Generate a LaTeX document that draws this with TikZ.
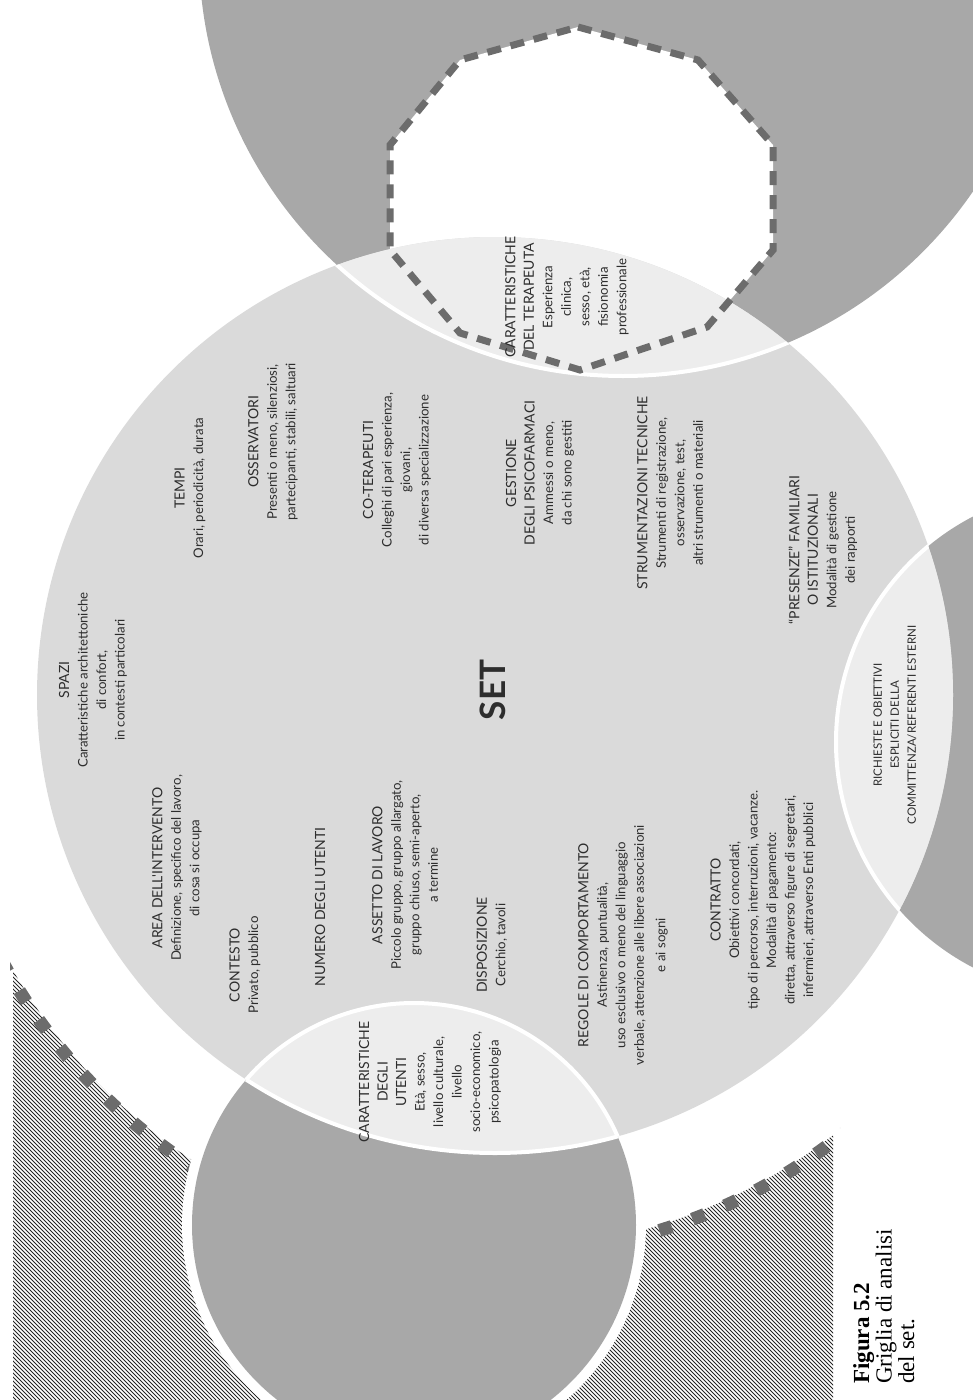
\documentclass[tikz,border=0pt]{standalone}
\usepackage{fontspec}
\usetikzlibrary{shapes}
\usetikzlibrary{arrows}
\newfontfamily\griglia{Lato}
\newfontfamily\didascalia{Liberation Serif}
\definecolor{fondo}{RGB}{218,218,218}
\definecolor{anello}{RGB}{168,168,168}
\definecolor{lente}{RGB}{237,237,237}
\definecolor{quadri}{RGB}{108,108,108}
\definecolor{inchiostro}{RGB}{45,45,45}
\newcommand{\titolo}[1]{{\fontsize{14}{18.5}\selectfont #1}}

\begin{document}
\begin{tikzpicture}[x=1pt,y=-1pt]
	\tikzstyle{voce}=[rotate=90, align=center, text=inchiostro, font=\griglia\fontsize{13.2}{18.5}\selectfont, inner sep=0pt]
	\tikzstyle{cerchio}=[fill=anello]
	\tikzstyle{bordo}=[draw=white, line width=4pt]
	\tikzstyle{tratteggio}=[draw=quadri, line width=7pt, dash pattern=on 14pt off 10pt]
	\tikzstyle{quadretti}=[draw=quadri, line width=13pt, dash pattern=on 13pt off 22pt]
	\tikzstyle{righe}=[draw=black!85, line width=0.8pt]

	\useasboundingbox (0,0) rectangle (973,1400);
	\clip (0,0) rectangle (973,1400);

	\coordinate (set) at (495,695);
	\coordinate (terapeuta) at (623,-48);
	\coordinate (esterni) at (1090,742);
	\coordinate (utenti) at (414,1225);

	\begin{scope}
		\clip (13,900) rectangle (833,1400);
		\begin{scope}[even odd rule]
			\clip (-10,-10) rectangle (1000,1410) (set) circle (555);
			\foreach \k in {-1400,-1396,...,840}
				\draw[righe] (\k,0) -- (\k+1400,1400);
		\end{scope}
	\end{scope}
	\begin{scope}
		\clip (10,900) rectangle (840,1400);
		\draw[quadretti] (set) circle (560);
	\end{scope}
	\fill[white] (utenti) circle (232);

	\fill[cerchio] (terapeuta) circle (424);
	\fill[cerchio] (esterni) circle (254);
	\fill[cerchio] (utenti) circle (222);
	\fill[white] (578,27) -- (698,60) -- (773,145) -- (773,250) -- (707,327) -- (580,370) -- (460,333) -- (390,250) -- (390,145) -- (460,60) -- cycle;

	\fill[fondo] (set) circle (458);
	\begin{scope}
		\clip (set) circle (458);
		\fill[lente] (terapeuta) circle (424);
		\fill[lente] (esterni) circle (254);
		\fill[lente] (utenti) circle (222);
		\draw[bordo] (terapeuta) circle (424);
		\draw[bordo] (esterni) circle (254);
		\draw[bordo] (utenti) circle (222);
	\end{scope}
	\begin{scope}
		\clip (utenti) circle (222);
		\draw[bordo] (set) circle (458);
	\end{scope}
	\draw[tratteggio] (578,27) -- (698,60) -- (773,145) -- (773,250) -- (707,327) -- (580,370) -- (460,333) -- (390,250) -- (390,145) -- (460,60) -- cycle;

	\node[voce] (spazi) at (93,680) {\titolo{SPAZI}\\Caratteristiche architettoniche\\di confort,\\in contesti particolari};
	\node[voce] (tempi) at (190,488) {\titolo{TEMPI}\\Orari, periodicità, durata};
	\node[voce] (osservatori) at (273,442) {\titolo{OSSERVATORI}\\Presenti o meno, silenziosi,\\partecipanti, stabili, saltuari};
	\node[voce] (coterapeuti) at (397,470) {\titolo{CO-TERAPEUTI}\\Colleghi di pari esperienza,\\giovani,\\di diversa specializzazione};
	\node[voce] (psicofarmaci) at (540,473) {\titolo{GESTIONE}\\\titolo{DEGLI PSICOFARMACI}\\Ammessi o meno,\\da chi sono gestiti};
	\node[voce] (strumentazioni) at (670,493) {\titolo{STRUMENTAZIONI TECNICHE}\\Strumenti di registrazione,\\osservazione, test,\\altri strumenti o materiali};
	\node[voce] (presenze) at (823,550) {\titolo{“PRESENZE” FAMILIARI}\\\titolo{O ISTITUZIONALI}\\Modalità di gestione\\dei rapporti};
	\node[voce] (terapeutacar) at (567,297) {\titolo{CARATTERISTICHE}\\\titolo{DEL TERAPEUTA}\\Esperienza\\clinica,\\sesso, età,\\fisionomia\\professionale};
	\node[voce] (area) at (177,868) {\titolo{AREA DELL'INTERVENTO}\\Definizione, specifico del lavoro,\\di cosa si occupa};
	\node[voce] (contesto) at (245,965) {\titolo{CONTESTO}\\Privato, pubblico};
	\node[voce] (numero) at (320,907) {\titolo{NUMERO DEGLI UTENTI}};
	\node[voce] (assetto) at (405,875) {\titolo{ASSETTO DI LAVORO}\\Piccolo gruppo, gruppo allargato,\\gruppo chiuso, semi-aperto,\\a termine};
	\node[voce] (disposizione) at (492,945) {\titolo{DISPOSIZIONE}\\Cerchio, tavoli};
	\node[voce] (regole) at (623,945) {\titolo{REGOLE DI COMPORTAMENTO}\\Astinenza, puntualità,\\uso esclusivo o meno del linguaggio\\verbale, attenzione alle libere associazioni\\[3pt]e ai sogni};
	\node[voce] (contratto) at (763,900) {\titolo{CONTRATTO}\\Obiettivi concordati,\\tipo di percorso, interruzioni, vacanze.\\Modalità di pagamento:\\diretta, attraverso figure di segretari,\\infermieri, attraverso Enti pubblici};
	\node[voce, font=\griglia\fontsize{11.5}{17}\selectfont] (richieste) at (895,725) {RICHIESTE E OBIETTIVI\\ESPLICITI DELLA\\COMMITTENZA/REFERENTI ESTERNI};
	\node[voce] (utenticar) at (430,1082) {\titolo{CARATTERISTICHE}\\\titolo{DEGLI}\\\titolo{UTENTI}\\Età, sesso,\\livello culturale,\\livello\\socio-economico,\\psicopatologia};
	\node[voce, font=\griglia\bfseries\fontsize{35}{35}\selectfont] (settitolo) at (493,690) {SET};
	\node[rotate=90, anchor=north west, align=left, font=\didascalia\fontsize{23}{22.5}\selectfont, inner sep=0pt] (figura) at (853,1384) {\textbf{Figura 5.2}\\Griglia di analisi\\del set.};
\end{tikzpicture}
\end{document}
